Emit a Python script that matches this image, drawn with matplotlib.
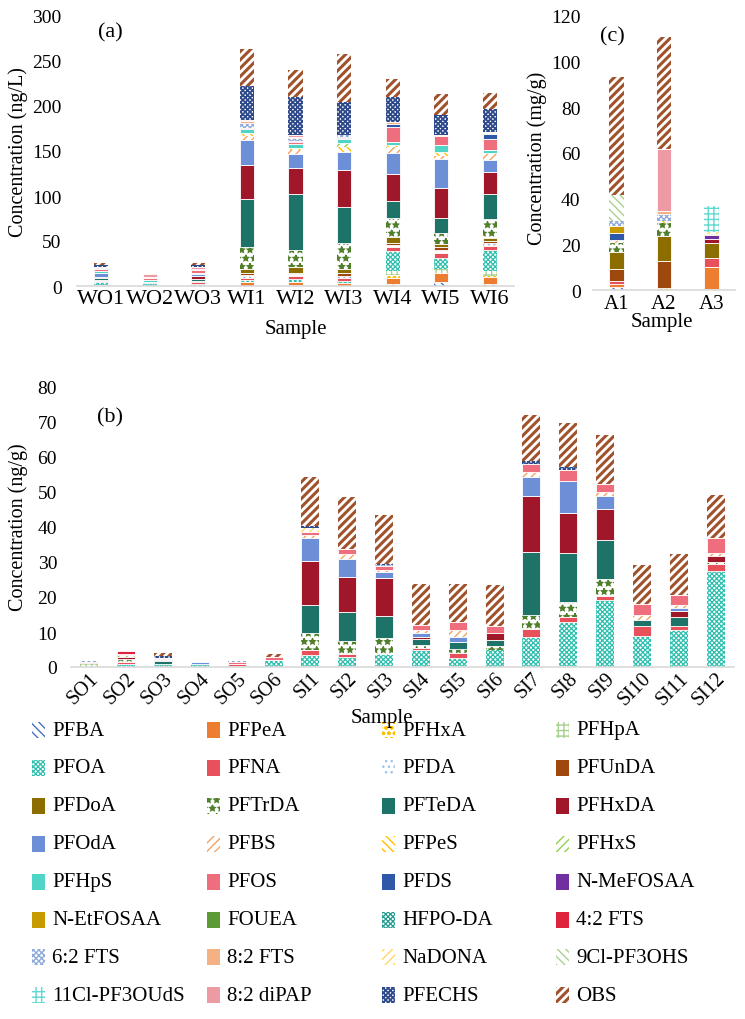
import numpy as np
import matplotlib
matplotlib.use('Agg')
import matplotlib.pyplot as plt
from matplotlib.patches import Rectangle

plt.rcParams['font.family'] = ['Liberation Serif', 'DejaVu Serif']
plt.rcParams['hatch.linewidth'] = 1.0

compounds = ['PFBA', 'PFPeA', 'PFHxA', 'PFHpA', 'PFOA', 'PFNA', 'PFDA', 'PFUnDA',
             'PFDoA', 'PFTrDA', 'PFTeDA', 'PFHxDA', 'PFOdA', 'PFBS', 'PFPeS', 'PFHxS',
             'PFHpS', 'PFOS', 'PFDS', 'N-MeFOSAA', 'N-EtFOSAA', 'FOUEA', 'HFPO-DA', '4:2 FTS',
             '6:2 FTS', '8:2 FTS', 'NaDONA', '9Cl-PF3OHS', '11Cl-PF3OUdS', '8:2 diPAP', 'PFECHS', 'OBS']

# (a) water, ng/L -- one row per compound, same order as `compounds`
water_samples = ['WO1', 'WO2', 'WO3', 'WI1', 'WI2', 'WI3', 'WI4', 'WI5', 'WI6']
water = [
    [0, 0, 0, 0, 1, 0, 2.5, 4, 2],            # PFBA
    [1.5, 0, 0, 4, 3, 3, 6.5, 10, 8],         # PFPeA
    [0, 0, 0, 0, 0, 0, 3.5, 0, 1],            # PFHxA
    [0, 0, 0, 0, 0, 0, 4.5, 5, 6],            # PFHpA
    [2.5, 3, 2.5, 3, 4, 3, 21.5, 12, 23],     # PFOA
    [2, 2, 2, 2, 3, 3, 5, 6, 5],              # PFNA
    [1, 0, 0, 3, 2, 2, 2, 3, 3],              # PFDA
    [0, 0, 1, 2, 2, 3, 2.5, 3, 2],            # PFUnDA
    [0, 0, 0, 5, 6, 5, 6, 4, 3],              # PFDoA
    [0, 0, 0, 24, 19, 29, 21.5, 12, 21],      # PFTrDA
    [1.5, 0, 2, 54, 62, 40, 19, 17, 28],      # PFTeDA
    [1.5, 0, 4, 38, 29, 41, 29.5, 33, 25],    # PFHxDA
    [4, 0, 2, 27, 16, 20, 23.5, 32, 13],      # PFOdA
    [1, 0, 0, 5, 4, 0, 7, 3, 7],              # PFBS
    [0, 0, 0, 3, 2, 5, 2, 5, 1],              # PFPeS
    [0, 0, 0, 0, 0, 5, 0, 0, 0],              # PFHxS
    [1.5, 1.5, 1, 4, 5, 4, 3, 8, 3],          # PFHpS
    [2.5, 2, 3, 2, 2, 1, 17, 10, 12],         # PFOS
    [0, 0, 0, 0, 0, 0, 4, 0, 6],              # PFDS
    [0, 0, 0, 0, 1, 2, 0, 0, 0],              # N-MeFOSAA
    [0, 0, 0, 0, 0, 0, 0, 0, 1],              # N-EtFOSAA
    [0, 0, 0, 0, 0, 0, 0, 0, 0],              # FOUEA
    [0, 0, 0, 0, 0, 0, 0, 0, 0],              # HFPO-DA
    [0, 0, 0, 0, 0, 0, 0, 0, 0],              # 4:2 FTS
    [1.5, 0, 1.5, 5, 3, 2, 0, 0, 0],          # 6:2 FTS
    [0, 1.5, 0, 2, 2, 0, 2, 1, 1],            # 8:2 FTS
    [0, 0, 0, 0, 0, 0, 0, 0, 0],              # NaDONA
    [0, 0, 0, 0, 0, 0, 0, 0, 0],              # 9Cl-PF3OHS
    [0, 0, 0, 0, 0, 0, 0, 0, 0],              # 11Cl-PF3OUdS
    [1, 3, 2, 2, 2, 0, 0, 0, 0],              # 8:2 diPAP
    [1.5, 0, 2, 37, 42, 36, 27.5, 22, 26],    # PFECHS
    [3, 0, 3, 41, 30, 54, 20.5, 23, 18],      # OBS
]

# (b) soil, ng/g
soil_samples = ['SO1', 'SO2', 'SO3', 'SO4', 'SO5', 'SO6', 'SI1', 'SI2', 'SI3',
                'SI4', 'SI5', 'SI6', 'SI7', 'SI8', 'SI9', 'SI10', 'SI11', 'SI12']
z18 = [0] * 18
soil = [
    [0, 0, 0, 0, 0, 0, 0, 0, 0, 0.3, 0, 0, 0, 0, 0, 0, 0, 0],                          # PFBA
    [0, 0, 0, 0, 0, 0, 0.3, 0.2, 0.4, 0, 0.3, 0, 0, 0.4, 0, 0, 0, 0],                  # PFPeA
    z18,                                                                               # PFHxA
    [1.1, 0, 0, 0, 0, 0, 0, 0, 0, 0, 0, 0, 0, 0, 0, 0, 0, 0],                          # PFHpA
    [0, 0.8, 0.9, 1.0, 0.4, 1.7, 3.0, 2.8, 3.1, 4.5, 2.4, 5.0, 8.6, 12.5, 19.2, 9.0, 10.5, 27.3],  # PFOA
    [0, 0.6, 0, 0, 0.6, 0, 1.5, 0.7, 0, 0.6, 1.2, 0, 2.4, 1.4, 1.0, 2.7, 1.3, 2.2],    # PFNA
    [0, 0, 0, 0, 0, 0.3, 0, 0, 0, 0, 0, 0, 0, 0, 0, 0, 0, 0],                          # PFDA
    z18,                                                                               # PFUnDA
    z18,                                                                               # PFDoA
    [0, 0.8, 0, 0, 0, 0, 4.9, 3.8, 4.8, 1.0, 1.2, 0.9, 3.8, 4.3, 5.0, 0, 0, 0.6],      # PFTrDA
    [0, 0, 0.8, 0, 0, 0, 8.1, 8.3, 6.2, 1.6, 2.0, 1.7, 18.1, 14.0, 11.0, 1.6, 2.6, 0], # PFTeDA
    [0, 0.7, 0.3, 0, 0, 0, 12.6, 9.9, 10.8, 0.6, 0, 2.2, 15.9, 11.4, 9.0, 0, 1.5, 1.6],  # PFHxDA
    [0, 0, 0.2, 0.3, 0, 0, 6.4, 5.1, 1.8, 1.1, 1.4, 0, 5.5, 9.1, 3.6, 0, 1.1, 0],      # PFOdA
    [0, 0, 0, 0, 0, 0, 1.0, 1.4, 0.7, 1.0, 2.2, 0, 1.4, 0, 1.2, 1.7, 0.8, 0.8],        # PFBS
    z18,                                                                               # PFPeS
    [0, 0.4, 0, 0, 0, 0, 0, 0, 0, 0, 0, 0, 0, 0, 0, 0, 0, 0],                          # PFHxS
    z18,                                                                               # PFHpS
    [0.3, 0.5, 0.5, 0, 0.3, 1.0, 0.8, 1.6, 1.0, 1.4, 2.2, 1.8, 2.4, 3.3, 2.4, 3.1, 2.8, 4.3],  # PFOS
    z18, z18, z18, z18, z18,                                                           # PFDS .. HFPO-DA
    [0, 0.7, 0, 0, 0, 0, 0, 0, 0, 0, 0, 0, 0, 0, 0, 0, 0, 0],                          # 4:2 FTS
    [0.3, 0, 0, 0, 0.3, 0, 0, 0, 0.4, 0, 0, 0, 0, 0, 0, 0, 0, 0],                      # 6:2 FTS
    z18,                                                                               # 8:2 FTS
    [0, 0, 0, 0, 0, 0, 1.0, 0, 0, 0, 0, 0, 0, 0, 0, 0, 0, 0],                          # NaDONA
    z18, z18, z18,                                                                     # 9Cl, 11Cl, diPAP
    [0, 0, 0.4, 0, 0, 0, 0.8, 0, 0.3, 0, 0, 0, 0.7, 0.7, 0, 0, 0, 0],                  # PFECHS
    [0, 0, 0.8, 0, 0, 0.7, 13.9, 14.8, 14.0, 11.7, 10.9, 11.7, 13.3, 12.6, 13.8, 11.1, 11.8, 12.4],  # OBS
]

# (c) ash, mg/g
ash_samples = ['A1', 'A2', 'A3']
ash = [
    [1.4, 0, 0.5], [1.4, 0, 9.5], [0, 0.8, 0], [0, 0, 0],       # PFBA PFPeA PFHxA PFHpA
    [0, 0, 0], [1.3, 0, 3.9], [0, 0, 0], [4.9, 11.8, 0],        # PFOA PFNA PFDA PFUnDA
    [7.6, 11.2, 6.6], [4.1, 5.6, 0], [0, 0, 0], [0, 0, 1.7],    # PFDoA PFTrDA PFTeDA PFHxDA
    [0, 0, 0], [1.1, 0, 0], [0, 0.8, 0], [0, 0, 0],             # PFOdA PFBS PFPeS PFHxS
    [0, 0, 0], [0, 0, 0], [3.3, 0, 0], [0, 0, 1.8],             # PFHpS PFOS PFDS N-MeFOSAA
    [2.9, 0, 0.7], [0, 0, 0], [0, 0, 0], [0, 0, 0],             # N-EtFOSAA FOUEA HFPO-DA 4:2 FTS
    [2.3, 3.0, 0], [0, 1.2, 0], [0, 0, 0.9], [11.5, 0, 0],      # 6:2 FTS 8:2 FTS NaDONA 9Cl
    [0, 0, 11.3], [0, 27.5, 0], [0, 0, 0], [51.6, 48.9, 0],     # 11Cl diPAP PFECHS OBS
]

# (colour, hatch) per compound; hatch None -> solid fill
styles = [
    ('#4472C4', '\\\\\\\\'), ('#ED7D31', None), ('#FFC000', 'ooo'), ('#A9D18E', '+++'),
    ('#2EBFAE', 'xxxxxxx'), ('#E8505B', None), ('#9DC3E6', '...'), ('#9E480E', None),
    ('#8C6D00', None), ('#4F7F2A', '**'), ('#1E7369', None), ('#A01729', None),
    ('#6D8FD8', None), ('#F4A460', '////'), ('#FFC000', '\\\\\\\\'), ('#92D050', '////'),
    ('#4FD5C5', None), ('#EE6E7D', None), ('#2F58A8', None), ('#7030A0', None),
    ('#C79A00', None), ('#5B9A34', None), ('#239A8C', 'xxxxxxx'), ('#E0233C', None),
    ('#8EAADB', 'xxxxxx'), ('#F4B183', None), ('#FFD966', '////'), ('#A9D18E', '\\\\\\\\'),
    ('#5FD8CF', '+++'), ('#EE9AA4', None), ('#2E4A8A', 'xxxxxxx'), ('#A0522D', '////'),
]
hatch_lw = {'OBS': 2.2, 'PFECHS': 1.3, 'PFOA': 0.9, 'HFPO-DA': 0.9}

W, H = 745, 1020


def fx(px):
    return px / W


def fy(py):
    return 1 - py / H


def set_hlw(p, lw):
    if hasattr(p, 'set_hatch_linewidth'):
        p.set_hatch_linewidth(lw)


def draw_stack(ax, samples, table, width):
    x = np.arange(len(samples))
    bottom = np.zeros(len(samples))
    for name, row, (color, hatch) in zip(compounds, table, styles):
        v = np.asarray(row, dtype=float)
        m = v > 0
        if m.any():
            if hatch:
                lw = hatch_lw.get(name, 1.0)
                with plt.rc_context({'hatch.linewidth': lw}):
                    bars = ax.bar(x[m], v[m], width, bottom=bottom[m], color='white',
                                  edgecolor=color, hatch=hatch, linewidth=0)
                for p in bars:
                    set_hlw(p, lw)
            else:
                ax.bar(x[m], v[m], width, bottom=bottom[m], color=color,
                       edgecolor='white', linewidth=0.6)
        bottom += v
    ax.set_xlim(-0.5, len(samples) - 0.5)
    ax.set_xticks(x)


def style(ax, ymax, step, ypad, xpad, xsize):
    ax.set_ylim(0, ymax)
    ax.set_yticks(np.arange(0, ymax + 1, step))
    for s in ['top', 'right', 'left']:
        ax.spines[s].set_visible(False)
    ax.spines['bottom'].set_color('#D9D9D9')
    ax.spines['bottom'].set_linewidth(1.2)
    ax.tick_params(axis='both', length=0)
    ax.tick_params(axis='y', pad=ypad, labelsize=14)
    ax.tick_params(axis='x', pad=xpad, labelsize=xsize)


fig = plt.figure(figsize=(7.45, 10.2), dpi=100)

ax_a = fig.add_axes([fx(77), fy(287), 437 / W, 270 / H])
draw_stack(ax_a, water_samples, water, 0.29)
ax_a.set_xticklabels(water_samples)
style(ax_a, 300, 50, 11, 2, 16)

ax_c = fig.add_axes([fx(593), fy(291), 142 / W, 274 / H])
draw_stack(ax_c, ash_samples, ash, 0.31)
ax_c.set_xticklabels(ash_samples)
style(ax_c, 120, 20, 9, 3, 15)

ax_b = fig.add_axes([fx(71), fy(668), 663 / W, 280 / H])
draw_stack(ax_b, soil_samples, soil, 0.49)
ax_b.set_xticklabels(soil_samples, rotation=45, ha='right', va='top', rotation_mode='anchor')
style(ax_b, 80, 10, 10, 1, 14.5)

fig.text(fx(110), fy(33), '(a)', fontsize=16, ha='center', va='center')
fig.text(fx(612), fy(37), '(c)', fontsize=16, ha='center', va='center')
fig.text(fx(110), fy(418), '(b)', fontsize=16, ha='center', va='center')

fig.text(fx(18), fy(152), 'Concentration (ng/L)', rotation=90, fontsize=14.5, ha='center', va='center')
fig.text(fx(537), fy(158), 'Concentration (mg/g)', rotation=90, fontsize=14.5, ha='center', va='center')
fig.text(fx(18), fy(527), 'Concentration (ng/g)', rotation=90, fontsize=14.5, ha='center', va='center')

fig.text(fx(296), fy(330), 'Sample', fontsize=15, ha='center', va='center')
fig.text(fx(662), fy(323), 'Sample', fontsize=15, ha='center', va='center')
fig.text(fx(382), fy(719), 'Sample', fontsize=15, ha='center', va='center')

# legend, 4 columns filled row by row
col_x = [32, 207, 382, 556]
for i, (name, (color, hatch)) in enumerate(zip(compounds, styles)):
    r, c = divmod(i, 4)
    x0, yc = col_x[c], 731 + 37.9 * r
    if hatch:
        lw = hatch_lw.get(name, 1.0)
        with plt.rc_context({'hatch.linewidth': lw}):
            rect = Rectangle((fx(x0), fy(yc + 8)), 13 / W, 16 / H, transform=fig.transFigure,
                             facecolor='white', edgecolor=color, hatch=hatch, linewidth=0)
        set_hlw(rect, lw)
    else:
        rect = Rectangle((fx(x0), fy(yc + 8)), 13 / W, 16 / H, transform=fig.transFigure,
                         facecolor=color, linewidth=0)
    fig.add_artist(rect)
    fig.text(fx(x0 + 20), fy(yc), name, fontsize=15, va='center', ha='left')

fig.savefig('out.png', dpi=100)
